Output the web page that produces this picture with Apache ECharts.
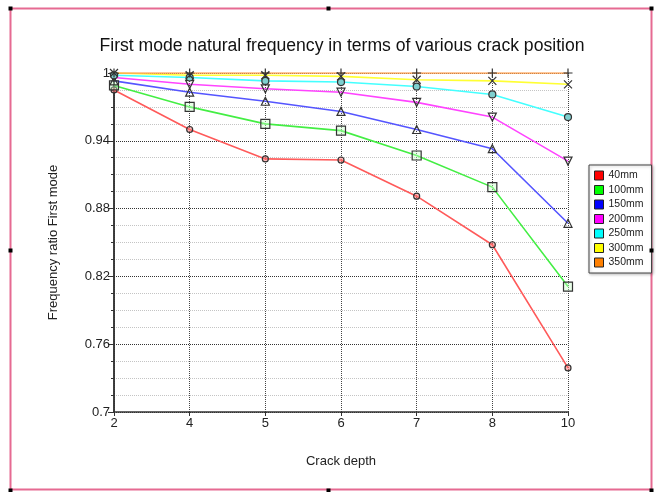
<!DOCTYPE html>
<html>
<head>
<meta charset="utf-8">
<script src="https://cdn.jsdelivr.net/npm/echarts@6/dist/echarts.min.js"></script>
<style>html,body{margin:0;padding:0;background:#fff}#c{width:656px;height:492px}</style>
</head>
<body>
<div id="c"></div>
<script>
var categories = ['2', '4', '5', '6', '7', '8', '10'];
var seriesNames = ['40mm', '100mm', '150mm', '200mm', '250mm', '300mm', '350mm'];
var s40  = [0.985, 0.950, 0.924, 0.923, 0.891, 0.848, 0.739];
var s100 = [0.989, 0.970, 0.955, 0.949, 0.927, 0.899, 0.811];
var s150 = [0.993, 0.983, 0.975, 0.966, 0.950, 0.933, 0.867];
var s200 = [0.996, 0.990, 0.986, 0.983, 0.974, 0.961, 0.922];
var s250 = [0.998, 0.996, 0.993, 0.992, 0.988, 0.981, 0.961];
var s300 = [1.000, 0.998, 0.998, 0.997, 0.994, 0.993, 0.990];
var s350 = [1.000, 1.000, 1.000, 1.000, 1.000, 1.000, 1.000];
var majorTicks = [0.7, 0.76, 0.82, 0.88, 0.94, 1];
var minorTicks = [0.715, 0.73, 0.745, 0.775, 0.79, 0.805, 0.835, 0.85, 0.865, 0.895, 0.91, 0.925, 0.955, 0.97, 0.985];

var allData = [s40, s100, s150, s200, s250, s300, s350];
var lineColors = ['#ff5a5a', '#44ee44', '#5555ff', '#ff44ff', '#44ffff', '#ffff33', '#ffa050'];
var legendColors = ['#ff0000', '#00ff00', '#0000ff', '#ff00ff', '#00ffff', '#ffff00', '#ff8000'];
var symbols = ['circle', 'rect', 'triangle', 'triangle', 'circle',
  'path://M0,0L10,10M10,0L0,10', 'path://M5,0L5,10M0,5L10,5'];
var symbolSizes = [6, 9, 8, 8, 7, 8, 9];
var symbolRotates = [0, 0, 0, 180, 0, 0, 0];
var symbolFills = ['rgba(255,120,120,0.5)', 'rgba(200,255,200,0.4)', 'rgba(0,0,0,0)', 'rgba(0,0,0,0)', '#7fd0d0', 'rgba(0,0,0,0)', 'rgba(0,0,0,0)'];

var series = allData.map(function (d, i) {
  return {
    name: seriesNames[i],
    type: 'line',
    data: d,
    yAxisIndex: 0,
    symbol: symbols[i],
    symbolSize: symbolSizes[i],
    symbolRotate: symbolRotates[i],
    showAllSymbol: true,
    lineStyle: { color: lineColors[i], width: 1.6 },
    itemStyle: { color: symbolFills[i], borderColor: '#333', borderWidth: 1.2 },
    emphasis: { disabled: true },
    animation: false,
    z: 3
  };
});

var handles = [[10, 8], [328, 8], [651, 8], [10, 250], [651, 250], [10, 490], [328, 490], [651, 490]];
var graphics = [{
  type: 'rect', silent: true, z: 0,
  shape: { x: 10.5, y: 8.5, width: 641, height: 481 },
  style: { fill: 'none', stroke: '#e66a92', lineWidth: 2 }
}];
handles.forEach(function (h) {
  graphics.push({ type: 'rect', silent: true, z: 10,
    shape: { x: h[0] - 1.5, y: h[1] - 1.5, width: 4, height: 4 }, style: { fill: '#000' } });
});

var chart = echarts.init(document.getElementById('c'), null, { renderer: 'canvas' });
chart.setOption({
  animation: false,
  backgroundColor: '#fff',
  textStyle: { fontFamily: 'Liberation Sans, Arial, sans-serif' },
  title: {
    text: 'First mode natural frequency in terms of various crack position',
    left: 337, top: 32, textAlign: 'center',
    textStyle: { fontSize: 17.6, fontWeight: 'normal', color: '#111', fontFamily: 'Liberation Sans, Arial, sans-serif' }
  },
  grid: { left: 114, right: 88, top: 73, bottom: 80, containLabel: false },
  legend: {
    orient: 'vertical', left: 589, top: 165,
    padding: [5, 8, 5, 5], itemGap: 3.5, itemWidth: 9, itemHeight: 9,
    borderColor: '#444', borderWidth: 1, backgroundColor: '#fff',
    shadowColor: 'rgba(0,0,0,0.25)', shadowBlur: 3, shadowOffsetX: 1, shadowOffsetY: 1,
    textStyle: { fontSize: 10.5, color: '#222' },
    selectedMode: false,
    data: seriesNames.map(function (n, i) {
      return { name: n, icon: 'rect', itemStyle: { color: legendColors[i], borderColor: '#222', borderWidth: 1 } };
    })
  },
  xAxis: {
    type: 'category', data: categories, boundaryGap: false,
    name: 'Crack depth', nameLocation: 'middle', nameGap: 43,
    nameTextStyle: { fontSize: 13, color: '#222' },
    axisLine: { lineStyle: { color: '#333', width: 1.5 } },
    axisTick: { show: true, length: 4, lineStyle: { color: '#333' } },
    axisLabel: { fontSize: 13, color: '#222', margin: 5 },
    splitLine: { show: true, lineStyle: { color: '#444', type: 'dotted', width: 1 } }
  },
  yAxis: [{
    type: 'value', min: 0.7, max: 1, position: 'left',
    axisLine: { show: true, lineStyle: { color: '#333', width: 1.5 } },
    axisTick: { show: true, length: 3, customValues: minorTicks, lineStyle: { color: '#333' } },
    axisLabel: { show: false },
    splitLine: { show: true, lineStyle: { color: '#c4c4c4', type: 'dotted', width: 1 } }
  }, {
    type: 'value', min: 0.7, max: 1, position: 'left', offset: 0,
    name: 'Frequency ratio First mode', nameLocation: 'middle', nameGap: 54, nameRotate: 90,
    nameTextStyle: { fontSize: 13, color: '#222' },
    axisLine: { show: true, lineStyle: { color: '#333', width: 1.5 } },
    axisTick: { show: true, length: 6, customValues: majorTicks, lineStyle: { color: '#333' } },
    axisLabel: { fontSize: 13, color: '#222', margin: 4, customValues: majorTicks,
      formatter: function (v) { return String(+v.toFixed(2)); } },
    splitLine: { show: true, lineStyle: { color: '#333', type: 'dotted', width: 1 } }
  }],
  graphic: graphics,
  series: series
});
</script>
</body>
</html>
